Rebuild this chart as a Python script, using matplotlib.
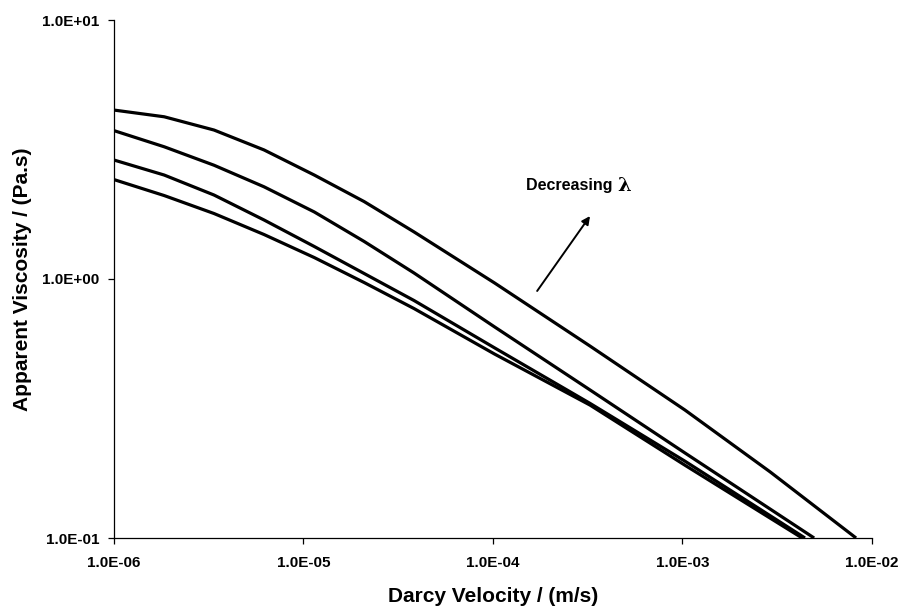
import numpy as np
import matplotlib
matplotlib.use("Agg")
import matplotlib.pyplot as plt
from matplotlib.ticker import FixedLocator, FuncFormatter, NullLocator

# Darcy velocity (m/s) sample points
x_common = [1.0e-6, 1.84e-6, 3.37e-6, 6.19e-6, 1.14e-5, 2.09e-5, 3.83e-5,
            1.02e-4, 3.25e-4, 1.03e-3]

# Apparent viscosity (Pa.s) for each curve (top -> bottom)
curve1_y = [4.49, 4.23, 3.76, 3.15, 2.52, 1.99, 1.52, 0.965, 0.551, 0.312]
curve2_y = [3.74, 3.24, 2.75, 2.27, 1.815, 1.396, 1.055, 0.653, 0.373, 0.213]
curve3_y = [2.88, 2.52, 2.11, 1.69, 1.335, 1.05, 0.826, 0.542, 0.331, 0.198]
curve4_y = [2.42, 2.10, 1.79, 1.485, 1.21, 0.969, 0.769, 0.513, 0.326, 0.191]

# tail points (x, y) down to where each curve leaves the axes
curve1_tail_x = [2.90e-3, 8.24e-3]
curve1_tail_y = [0.180, 0.1]
curve2_tail_x = [4.95e-3]
curve2_tail_y = [0.1]
curve3_tail_x = [4.43e-3]
curve3_tail_y = [0.1]
curve4_tail_x = [4.28e-3]
curve4_tail_y = [0.1]

curves = [(curve1_y, curve1_tail_x, curve1_tail_y),
          (curve2_y, curve2_tail_x, curve2_tail_y),
          (curve3_y, curve3_tail_x, curve3_tail_y),
          (curve4_y, curve4_tail_x, curve4_tail_y)]

x_ticks = [1e-6, 1e-5, 1e-4, 1e-3, 1e-2]
y_ticks = [0.1, 1.0, 10.0]

annot_text = "Decreasing "
annot_symbol = "\u03bb"
arrow_tail = (1.71e-4, 0.899)
arrow_head = (3.25e-4, 1.75)
text_pos = (1.49e-4, 2.29)

plt.rcParams['font.family'] = ['Liberation Sans', 'DejaVu Sans']
plt.rcParams['font.weight'] = 'bold'

fig = plt.figure(figsize=(9.03, 6.11), dpi=100)
ax = fig.add_axes([114/903, 1-538/611, (872-114)/903, (538-20)/611])

for ys, tx, ty in curves:
    xs = list(x_common) + list(tx)
    yv = list(ys) + list(ty)
    ax.plot(xs, yv, color='black', lw=2.3, solid_capstyle='butt',
            solid_joinstyle='round')

ax.set_xscale('log')
ax.set_yscale('log')
ax.set_xlim(1e-6, 1e-2)
ax.set_ylim(0.1, 10)

fmt = FuncFormatter(lambda v, p: f"{v:.1E}")
ax.xaxis.set_major_locator(FixedLocator(x_ticks))
ax.yaxis.set_major_locator(FixedLocator(y_ticks))
ax.xaxis.set_minor_locator(NullLocator())
ax.yaxis.set_minor_locator(NullLocator())
ax.xaxis.set_major_formatter(fmt)
ax.yaxis.set_major_formatter(fmt)

for s in ['top', 'right']:
    ax.spines[s].set_visible(False)
for s in ['left', 'bottom']:
    ax.spines[s].set_linewidth(0.9)
    ax.spines[s].set_color('black')

ax.tick_params(axis='both', which='major', direction='out', length=4, width=0.9,
               labelsize=11, colors='black')
ax.tick_params(axis='x', pad=9)
ax.tick_params(axis='y', pad=6.5)
for lab in ax.get_xticklabels() + ax.get_yticklabels():
    lab.set_fontweight('bold')

ax.set_xlabel("Darcy Velocity / (m/s)", fontsize=15, fontweight='bold')
ax.set_ylabel("Apparent Viscosity / (Pa.s)", fontsize=15, fontweight='bold')
ax.xaxis.label.set_va('center')
ax.yaxis.label.set_va('center')
ax.xaxis.set_label_coords(0.5, (538-597)/518)
ax.yaxis.set_label_coords((23-114)/758, 0.5)

ax.annotate("", xy=arrow_head, xytext=arrow_tail,
            arrowprops=dict(arrowstyle='-|>', color='black', lw=1.4,
                            mutation_scale=12, shrinkA=0, shrinkB=0))
t = ax.text(text_pos[0], text_pos[1], annot_text, fontsize=11.5, fontweight='bold',
            ha='left', va='center')
fig.canvas.draw()
bb = t.get_window_extent()
ax.annotate(annot_symbol, xy=(bb.x1, (bb.y0 + bb.y1) / 2), xycoords='figure pixels',
            fontsize=14, fontweight='bold', family=['DejaVu Serif'],
            ha='left', va='center')

fig.savefig("out.png", dpi=100)
